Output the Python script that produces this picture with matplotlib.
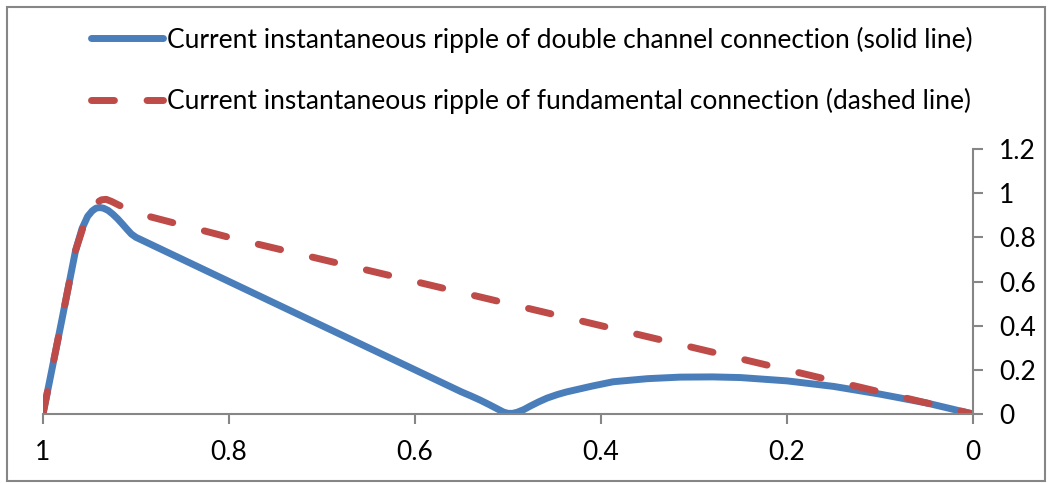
import numpy as np
import matplotlib.pyplot as plt
from matplotlib.patches import Rectangle

plt.rcParams['font.family'] = ['Lato', 'DejaVu Sans']

# solid line: double channel connection
x_double = [1.0, 0.98, 0.965, 0.958, 0.952, 0.947, 0.943, 0.939, 0.935, 0.93, 0.925,
            0.92, 0.915, 0.91, 0.905, 0.9, 0.8, 0.7, 0.6, 0.55, 0.54, 0.53, 0.52,
            0.51, 0.505, 0.5, 0.495, 0.49, 0.483, 0.476, 0.467, 0.458, 0.447, 0.437,
            0.41, 0.387, 0.35, 0.315, 0.28, 0.25, 0.2, 0.15, 0.1, 0.05, 0.0]
y_double = [0.0, 0.42, 0.74, 0.84, 0.895, 0.92, 0.932, 0.935, 0.932, 0.922, 0.905,
            0.885, 0.862, 0.838, 0.815, 0.8, 0.6, 0.4, 0.2, 0.1, 0.082, 0.063, 0.042,
            0.02, 0.009, 0.003, 0.003, 0.008, 0.02, 0.036, 0.055, 0.072, 0.088, 0.1,
            0.126, 0.146, 0.16, 0.167, 0.168, 0.165, 0.15, 0.125, 0.09, 0.05, 0.0]

# dashed line: fundamental connection
x_fund = [1.0, 0.98, 0.965, 0.955, 0.948, 0.942, 0.937, 0.932, 0.926, 0.918, 0.9,
          0.8, 0.6, 0.4, 0.2, 0.0]
y_fund = [0.0, 0.42, 0.74, 0.87, 0.93, 0.958, 0.97, 0.972, 0.962, 0.945, 0.91,
          0.8, 0.6, 0.4, 0.2, 0.0]

x_ticks = [1, 0.8, 0.6, 0.4, 0.2, 0]
x_labels = ['1', '0.8', '0.6', '0.4', '0.2', '0']
y_ticks = [0, 0.2, 0.4, 0.6, 0.8, 1, 1.2]
y_labels = ['0', '0.2', '0.4', '0.6', '0.8', '1', '1.2']

label_double = 'Current instantaneous ripple of double channel connection (solid line)'
label_fund = 'Current instantaneous ripple of fundamental connection (dashed line)'

blue = '#4A7EBB'
red = '#BE4B48'
grey = '#868686'

fig = plt.figure(figsize=(10.5, 4.83), dpi=100)
ax = fig.add_axes([43 / 1050, 69 / 483, 930 / 1050, 265 / 483])

ax.plot(x_double, y_double, color=blue, lw=5, solid_joinstyle='round',
        solid_capstyle='round', label=label_double)
ax.plot(x_fund, y_fund, color=red, lw=5, dashes=(3.3, 4.7),
        dash_capstyle='round', dash_joinstyle='round', label=label_fund)

ax.set_xlim(1, 0)
ax.set_ylim(0, 1.2)
ax.set_xticks(x_ticks)
ax.set_xticklabels(x_labels)
ax.set_yticks(y_ticks)
ax.set_yticklabels(y_labels)

ax.spines['left'].set_visible(False)
ax.spines['top'].set_visible(False)
for s in ['bottom', 'right']:
    ax.spines[s].set_color(grey)
    ax.spines[s].set_linewidth(1.5)

ax.yaxis.tick_right()
ax.tick_params(axis='x', direction='out', length=7, width=1.5, color=grey,
               labelsize=19, pad=12)
ax.tick_params(axis='y', direction='out', length=7, width=1.5, color=grey,
               labelsize=19, pad=12)

fig.legend(loc='upper left', bbox_to_anchor=(80 / 1050, 1 - 16 / 483),
           frameon=False, fontsize=19, handlelength=2.73, handletextpad=0.15,
           labelspacing=1.35, borderaxespad=0)

fig.patches.append(Rectangle((7 / 1050, 2 / 483), 1038 / 1050, 474 / 483,
                             transform=fig.transFigure, fill=False,
                             edgecolor=grey, lw=1.5))

fig.savefig('out.png', dpi=100)
